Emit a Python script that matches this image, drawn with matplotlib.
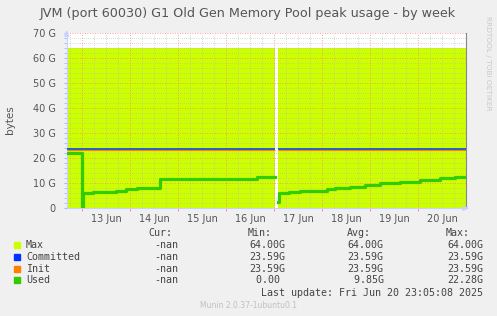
import matplotlib
matplotlib.use("Agg")
import matplotlib.pyplot as plt
import matplotlib.dates as mdates
import numpy as np
import pandas as pd

# ---- data ----
title = "JVM (port 60030) G1 Old Gen Memory Pool peak usage - by week"
x_start = "2025-06-12 16:12"
x_end = "2025-06-20 23:42"
day_labels = ["13 Jun", "14 Jun", "15 Jun", "16 Jun", "17 Jun", "18 Jun", "19 Jun", "20 Jun"]
day_label_times = ["2025-06-13 12:00", "2025-06-14 12:00", "2025-06-15 12:00", "2025-06-16 12:00",
                   "2025-06-17 12:00", "2025-06-18 12:00", "2025-06-19 12:00", "2025-06-20 12:00"]

# data present in two segments (gap around 17 Jun 00:21 - 01:51)
seg_starts = ["2025-06-12 16:12", "2025-06-17 01:51"]
seg_ends = ["2025-06-17 00:21", "2025-06-20 23:42"]
max_gb = 64.0
committed_gb = 23.59
init_gb = 23.59

used_times = ["2025-06-12 16:12", "2025-06-12 23:21", "2025-06-12 23:40", "2025-06-13 00:21",
              "2025-06-13 05:21", "2025-06-13 16:51", "2025-06-13 21:51", "2025-06-14 03:21",
              "2025-06-14 14:51", "2025-06-16 15:12", "2025-06-17 00:21",
              "2025-06-17 01:51", "2025-06-17 02:21", "2025-06-17 07:21", "2025-06-17 12:51",
              "2025-06-18 02:21", "2025-06-18 06:21", "2025-06-18 13:51", "2025-06-18 21:21",
              "2025-06-19 04:51", "2025-06-19 14:51", "2025-06-20 00:51", "2025-06-20 10:51",
              "2025-06-20 18:21", "2025-06-20 23:42"]
used_gb = [22.28, 22.28, 0.3, 6.0,
           6.6, 7.0, 7.6, 8.0,
           11.6, 12.6, np.nan,
           2.6, 6.0, 6.7, 7.0,
           7.6, 8.0, 8.6, 9.3,
           10.0, 10.6, 11.3, 12.0,
           12.6, 12.6]

yticks = [0, 10, 20, 30, 40, 50, 60, 70]
ytick_labels = ["0", "10 G", "20 G", "30 G", "40 G", "50 G", "60 G", "70 G"]

legend_names = ["Max", "Committed", "Init", "Used"]
legend_colors = ["#ccff00", "#0033ff", "#ff7f00", "#33cc00"]
cur_vals = ["-nan", "-nan", "-nan", "-nan"]
min_vals = ["64.00G", "23.59G", "23.59G", "0.00 "]
avg_vals = ["64.00G", "23.59G", "23.59G", " 9.85G"]
max_vals = ["64.00G", "23.59G", "23.59G", "22.28G"]
last_update = "Last update: Fri Jun 20 23:05:08 2025"
munin_ver = "Munin 2.0.37-1ubuntu0.1"

# ---- figure ----
W, H = 497, 316
fig = plt.figure(figsize=(W / 100, H / 100), dpi=100)
fig.patch.set_facecolor("#f0f0f0")
L, R, T, B = 66.7, 465.7, 33.3, 208.3
ax = fig.add_axes([L / W, 1 - B / H, (R - L) / W, (B - T) / H])
ax.set_facecolor("white")

d = lambda s: mdates.date2num(pd.Timestamp(s))
t_used = [d(s) for s in used_times]

for s, e in zip(seg_starts, seg_ends):
    xs = [d(s), d(e)]
    ax.fill_between(xs, [0, 0], [max_gb, max_gb], color=legend_colors[0], lw=0, zorder=1)
for s, e in zip(seg_starts, seg_ends):
    xs = [d(s), d(e)]
    ax.plot(xs, [init_gb - 0.35] * 2, color=legend_colors[2], lw=0.8, zorder=3, solid_capstyle="butt")
    ax.plot(xs, [committed_gb] * 2, color=legend_colors[1], lw=1.1, zorder=3.1, solid_capstyle="butt")
ax.plot(t_used, used_gb, color=legend_colors[3], lw=2.3, drawstyle="steps-post", zorder=4)

ax.set_xlim(d(x_start), d(x_end))
ax.set_ylim(0, 70)

# grid
for dd in range(13, 21):
    ax.axvline(d(f"2025-06-{dd} 00:00"), color="#ff8080", lw=0.6, ls=(0, (1, 2)), zorder=2.5)
    for hh in (6, 12, 18):
        ax.axvline(d(f"2025-06-{dd} {hh:02d}:00"), color="#b8b8b8", lw=0.5, ls=(0, (1, 2)), zorder=2.4)
for hh in (18,):
    ax.axvline(d(f"2025-06-12 {hh:02d}:00"), color="#b8b8b8", lw=0.5, ls=(0, (1, 2)), zorder=2.4)
for y in range(2, 70, 2):
    if y % 10 == 0:
        ax.axhline(y, color="#ff8080", lw=0.6, ls=(0, (1, 2)), zorder=2.5)
    else:
        ax.axhline(y, color="#b8b8b8", lw=0.5, ls=(0, (1, 2)), zorder=2.4)
ax.axhline(70, color="#ff8080", lw=0.6, ls=(0, (1, 2)), zorder=2.5, clip_on=False)

ax.set_yticks(yticks)
ax.set_yticklabels(ytick_labels)
ax.set_yticks(np.arange(0, 71, 2), minor=True)
ax.set_xticks([d(s) for s in day_label_times])
ax.set_xticklabels(day_labels)
ax.set_xticks([d(f"2025-06-{dd} 00:00") for dd in range(13, 21)], minor=True)
ax.tick_params(axis="y", which="both", length=2, color="#aab4ff", labelsize=7, labelcolor="#555555", pad=6)
ax.tick_params(axis="x", which="major", length=0, labelsize=7, labelcolor="#555555", pad=4)
ax.tick_params(axis="x", which="minor", length=2, color="#ff8080")

for sp in ("top",):
    ax.spines[sp].set_visible(False)
ax.spines["right"].set_color("#888888")
ax.spines["right"].set_linewidth(0.8)
ax.spines["left"].set_color("#c8d0ff")
ax.spines["bottom"].set_color("#c8d0ff")
ax.spines["left"].set_linewidth(0.8)
ax.spines["bottom"].set_linewidth(0.8)

# axis arrows
ax.annotate("", xy=(0, 1.035), xytext=(0, 0.97), xycoords="axes fraction",
            arrowprops=dict(arrowstyle="-|>,head_width=0.15,head_length=0.35", color="#c8d0ff", lw=0.8),
            annotation_clip=False)
ax.annotate("", xy=(1.016, 0), xytext=(0.99, 0), xycoords="axes fraction",
            arrowprops=dict(arrowstyle="-|>,head_width=0.15,head_length=0.35", color="#c8d0ff", lw=0.8),
            annotation_clip=False)

# texts
fig.text(248 / W, 1 - 13 / H, title, ha="center", va="center", fontsize=9.2, color="#555555")
fig.text(10 / W, 1 - 120 / H, "bytes", rotation=90, ha="center", va="center", fontsize=7.5, color="#555555")
fig.text(488 / W, 1 - 16 / H, "RRDTOOL / TOBI OETIKER", rotation=270, ha="center", va="top",
         fontsize=5.3, color="#c8c8c8")

mono = dict(family="DejaVu Sans Mono", fontsize=7.2, color="#444444")
def px(x, y):
    return x / W, 1 - y / H

fig.text(*px(172, 232.5), "Cur:", ha="right", va="center", **mono)
fig.text(*px(272, 232.5), "Min:", ha="right", va="center", **mono)
fig.text(*px(371, 232.5), "Avg:", ha="right", va="center", **mono)
fig.text(*px(470, 232.5), "Max:", ha="right", va="center", **mono)
rows_y = [244.5, 256.5, 268.5, 280.3]
for i, name in enumerate(legend_names):
    y = rows_y[i]
    fig.patches.append(plt.Rectangle(((14) / W, 1 - (y + 3) / H), 6 / W, 6 / H,
                                     transform=fig.transFigure, color=legend_colors[i], figure=fig))
    fig.text(*px(26, y), name, ha="left", va="center", **mono)
    fig.text(*px(178.5, y), cur_vals[i], ha="right", va="center", **mono)
    fig.text(*px(285.5, y), min_vals[i], ha="right", va="center", **mono)
    fig.text(*px(383.5, y), avg_vals[i], ha="right", va="center", **mono)
    fig.text(*px(483, y), max_vals[i], ha="right", va="center", **mono)
fig.text(*px(483, 292.5), last_update, ha="right", va="center", **mono)
fig.text(*px(248, 305), munin_ver, ha="center", va="center", fontsize=5.5, color="#c0c0c0")

fig.savefig("out.png", dpi=100, facecolor=fig.get_facecolor())
